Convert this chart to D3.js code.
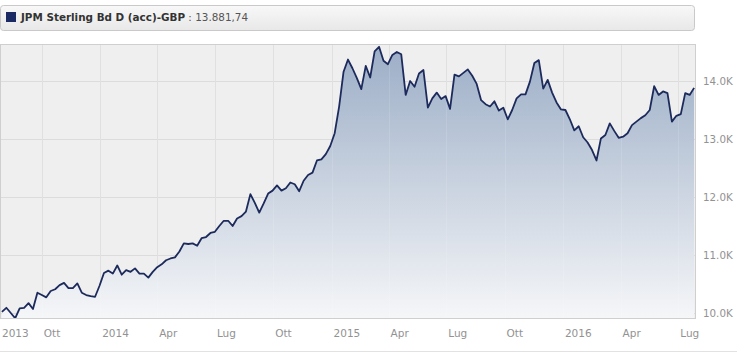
<html>
  <script src="https://d3js.org/d3.v7.min.js"></script>
  <style>
    body,
    html {
      margin: 0;
      padding: 0;
      background: white;
    }
    text {
      font-family: "DejaVu Sans", Verdana, sans-serif;
    }
  </style>
  <body>
    <svg id="chart" width="737" height="354"></svg>
    <script>
      // weekly closes
      const dates = [
        "2013-07-30",
        "2013-08-06", "2013-08-13", "2013-08-20", "2013-08-27",
        "2013-09-03", "2013-09-10", "2013-09-17", "2013-09-24",
        "2013-10-01", "2013-10-08", "2013-10-15", "2013-10-22", "2013-10-29",
        "2013-11-05", "2013-11-12", "2013-11-19", "2013-11-26",
        "2013-12-03", "2013-12-10", "2013-12-17", "2013-12-24", "2013-12-31",
        "2014-01-07", "2014-01-14", "2014-01-21", "2014-01-28",
        "2014-02-04", "2014-02-11", "2014-02-18", "2014-02-25",
        "2014-03-04", "2014-03-11", "2014-03-18", "2014-03-25",
        "2014-04-01", "2014-04-08", "2014-04-15", "2014-04-22", "2014-04-29",
        "2014-05-06", "2014-05-13", "2014-05-20", "2014-05-27",
        "2014-06-03", "2014-06-10", "2014-06-17", "2014-06-24",
        "2014-07-01", "2014-07-08", "2014-07-15", "2014-07-22", "2014-07-29",
        "2014-08-05", "2014-08-12", "2014-08-19", "2014-08-26",
        "2014-09-02", "2014-09-09", "2014-09-16", "2014-09-23", "2014-09-30",
        "2014-10-07", "2014-10-14", "2014-10-21", "2014-10-28",
        "2014-11-04", "2014-11-11", "2014-11-18", "2014-11-25",
        "2014-12-02", "2014-12-09", "2014-12-16", "2014-12-23", "2014-12-30",
        "2015-01-06", "2015-01-13", "2015-01-20", "2015-01-27",
        "2015-02-03", "2015-02-10", "2015-02-17", "2015-02-24",
        "2015-03-03", "2015-03-10", "2015-03-17", "2015-03-24", "2015-03-31",
        "2015-04-07", "2015-04-14", "2015-04-21", "2015-04-28",
        "2015-05-05", "2015-05-12", "2015-05-19", "2015-05-26",
        "2015-06-02", "2015-06-09", "2015-06-16", "2015-06-23", "2015-06-30",
        "2015-07-07", "2015-07-14", "2015-07-21", "2015-07-28",
        "2015-08-04", "2015-08-11", "2015-08-18", "2015-08-25",
        "2015-09-01", "2015-09-08", "2015-09-15", "2015-09-22", "2015-09-29",
        "2015-10-06", "2015-10-13", "2015-10-20", "2015-10-27",
        "2015-11-03", "2015-11-10", "2015-11-17", "2015-11-24",
        "2015-12-01", "2015-12-08", "2015-12-15", "2015-12-22", "2015-12-29",
        "2016-01-05", "2016-01-12", "2016-01-19", "2016-01-26",
        "2016-02-02", "2016-02-09", "2016-02-16", "2016-02-23",
        "2016-03-01", "2016-03-08", "2016-03-15", "2016-03-22", "2016-03-29",
        "2016-04-05", "2016-04-12", "2016-04-19", "2016-04-26",
        "2016-05-03", "2016-05-10", "2016-05-17", "2016-05-24", "2016-05-31",
        "2016-06-07", "2016-06-14", "2016-06-21", "2016-06-28",
        "2016-07-05", "2016-07-12", "2016-07-19", "2016-07-26",
      ];

      const values = [
        10020, 10090, 10000, 9910, 10080, 10090, 10170, 10070, 10350, 10310,
        10270, 10380, 10410, 10480, 10520, 10430, 10430, 10510, 10350, 10310,
        10290, 10280, 10470, 10690, 10730, 10680, 10820, 10660, 10740, 10710,
        10770, 10680, 10680, 10610, 10710, 10790, 10840, 10910, 10940, 10960,
        11060, 11200, 11190, 11200, 11160, 11290, 11310, 11380, 11400, 11500,
        11590, 11590, 11500, 11630, 11670, 11750, 12050, 11900, 11730, 11890,
        12060, 12110, 12200, 12110, 12150, 12250, 12220, 12100, 12280, 12380,
        12420, 12630, 12650, 12740, 12880, 13100, 13560, 14160, 14370, 14220,
        14050, 13860, 14260, 14060, 14510, 14590, 14350, 14290, 14450, 14500,
        14460, 13760, 14000, 13900, 14130, 14190, 13540, 13700, 13800, 13690,
        13740, 13520, 14110, 14080, 14140, 14200, 14090, 13950, 13670, 13600,
        13560, 13650, 13490, 13540, 13340, 13500, 13700, 13770, 13770, 13990,
        14310, 14360, 13870, 14020, 13800, 13630, 13510, 13500, 13340, 13150,
        13220, 13030, 12940, 12810, 12630, 13010, 13070, 13270, 13140, 13020,
        13040, 13100, 13240, 13300, 13360, 13410, 13500, 13910, 13760, 13820,
        13790, 13300, 13400, 13430, 13790, 13760, 13881.74,
      ];

      const tickDates = [
        "2013-07-01", "2013-10-01", "2014-01-01", "2014-04-01", "2014-07-01",
        "2014-10-01", "2015-01-01", "2015-04-01", "2015-07-01", "2015-10-01",
        "2016-01-01", "2016-04-01", "2016-07-01",
      ];
      const tickLabels = [
        "2013", "Ott", "2014", "Apr", "Lug", "Ott", "2015", "Apr", "Lug", "Ott",
        "2016", "Apr", "Lug",
      ];
      const yTicks = [10000, 11000, 12000, 13000, 14000];

      const fundName = "JPM Sterling Bd D (acc)-GBP";
      const fundValue = "13.881,74";

      const parse = d3.timeParse("%Y-%m-%d");
      const data = dates.map((d, i) => ({ date: parse(d), value: values[i] }));

      // plot box
      const plotLeft = 0;
      const plotRight = 696;
      const plotTop = 44;
      const plotBottom = 318;

      const svg = d3.select("#chart");

      const x = d3
        .scaleTime()
        .domain([parse("2013-07-27"), parse("2016-07-29")])
        .range([plotLeft, plotRight]);
      const y = d3
        .scaleLinear()
        .domain([9914, 14638])
        .range([plotBottom, plotTop]);

      const defs = svg.append("defs");

      const areaGrad = defs
        .append("linearGradient")
        .attr("id", "areaGrad")
        .attr("gradientUnits", "userSpaceOnUse")
        .attr("x1", 0)
        .attr("y1", plotTop)
        .attr("x2", 0)
        .attr("y2", plotBottom);
      areaGrad.append("stop").attr("offset", "0%").attr("stop-color", "#9badc6");
      areaGrad.append("stop").attr("offset", "100%").attr("stop-color", "#f5f6f8");

      const titleGrad = defs
        .append("linearGradient")
        .attr("id", "titleGrad")
        .attr("x1", 0)
        .attr("y1", 0)
        .attr("x2", 0)
        .attr("y2", 1);
      titleGrad.append("stop").attr("offset", "0%").attr("stop-color", "#f8f8f8");
      titleGrad.append("stop").attr("offset", "100%").attr("stop-color", "#e8e8e8");

      defs
        .append("clipPath")
        .attr("id", "plotClip")
        .append("rect")
        .attr("x", plotLeft)
        .attr("y", plotTop)
        .attr("width", plotRight - plotLeft)
        .attr("height", plotBottom - plotTop);

      // title bar
      svg
        .append("rect")
        .attr("x", 0.5)
        .attr("y", 5.5)
        .attr("width", 694)
        .attr("height", 25)
        .attr("rx", 3)
        .attr("fill", "url(#titleGrad)")
        .attr("stroke", "#c9c9c9");
      svg
        .append("rect")
        .attr("x", 6)
        .attr("y", 12)
        .attr("width", 10)
        .attr("height", 10)
        .attr("fill", "#1b2a62");
      const title = svg
        .append("text")
        .attr("x", 21)
        .attr("y", 21)
        .style("font-size", "10.4px")
        .attr("fill", "#333");
      title.append("tspan").style("font-weight", "bold").text(fundName);
      title.append("tspan").attr("fill", "#555").text(" : " + fundValue);

      // plot background
      svg
        .append("rect")
        .attr("x", plotLeft)
        .attr("y", plotTop)
        .attr("width", plotRight - plotLeft)
        .attr("height", plotBottom - plotTop)
        .attr("fill", "#efefef");

      const quarterLines = tickDates.map(parse).filter((d) => x(d) > plotLeft);

      // grid
      svg
        .append("g")
        .selectAll("line")
        .data(yTicks)
        .join("line")
        .attr("x1", plotLeft)
        .attr("x2", plotRight)
        .attr("y1", (d) => Math.round(y(d)) + 0.5)
        .attr("y2", (d) => Math.round(y(d)) + 0.5)
        .attr("stroke", "#dcdcdc");

      svg
        .append("g")
        .selectAll("line")
        .data(quarterLines)
        .join("line")
        .attr("x1", (d) => Math.round(x(d)) + 0.5)
        .attr("x2", (d) => Math.round(x(d)) + 0.5)
        .attr("y1", plotTop)
        .attr("y2", plotBottom)
        .attr("stroke", "#dcdcdc");

      const plot = svg.append("g").attr("clip-path", "url(#plotClip)");

      plot
        .append("path")
        .datum(data)
        .attr("fill", "url(#areaGrad)")
        .attr(
          "d",
          d3
            .area()
            .x((d) => x(d.date))
            .y0(plotBottom)
            .y1((d) => y(d.value))
        );

      // grid shows faintly through the area
      plot
        .append("g")
        .selectAll("line")
        .data(quarterLines)
        .join("line")
        .attr("x1", (d) => Math.round(x(d)) + 0.5)
        .attr("x2", (d) => Math.round(x(d)) + 0.5)
        .attr("y1", plotTop)
        .attr("y2", plotBottom)
        .attr("stroke", "#ffffff")
        .attr("stroke-opacity", 0.12);

      plot
        .append("path")
        .datum(data)
        .attr("fill", "none")
        .attr("stroke", "#1c2a5c")
        .attr("stroke-width", 1.8)
        .attr("stroke-linejoin", "round")
        .attr(
          "d",
          d3
            .line()
            .x((d) => x(d.date))
            .y((d) => y(d.value))
        );

      // plot border
      svg
        .append("rect")
        .attr("x", plotLeft + 0.5)
        .attr("y", plotTop + 0.5)
        .attr("width", plotRight - plotLeft - 1)
        .attr("height", plotBottom - plotTop)
        .attr("fill", "none")
        .attr("stroke", "#cfcfcf");

      // y axis on the right
      const yAxis = svg
        .append("g")
        .attr("transform", `translate(${plotRight},0)`)
        .call(
          d3
            .axisRight(y)
            .tickValues(yTicks)
            .tickSize(0)
            .tickPadding(7)
            .tickFormat((d) => (d / 1000).toFixed(1) + "K")
        );
      yAxis.select(".domain").remove();
      yAxis
        .selectAll("text")
        .attr("fill", "#929292")
        .style("font-family", '"DejaVu Sans", Verdana, sans-serif')
        .style("font-size", "10.3px");

      // x labels, left aligned at each gridline
      svg
        .append("g")
        .selectAll("text")
        .data(tickDates)
        .join("text")
        .attr("x", (d) => Math.max(plotLeft, x(parse(d))) + 2)
        .attr("y", 337)
        .attr("fill", "#929292")
        .style("font-size", "10.5px")
        .text((d, i) => tickLabels[i]);

      // bottom rule
      svg
        .append("line")
        .attr("x1", 0)
        .attr("x2", 737)
        .attr("y1", 351.5)
        .attr("y2", 351.5)
        .attr("stroke", "#e2e2e2");
    </script>
  </body>
</html>
